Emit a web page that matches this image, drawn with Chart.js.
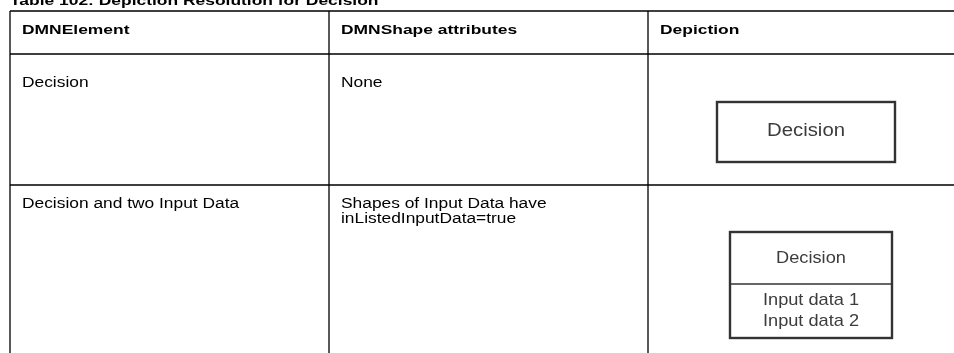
<!DOCTYPE html>
<html>
<head>
<meta charset="utf-8">
<script src="https://cdn.jsdelivr.net/npm/chart.js@4.4.1/dist/chart.umd.min.js"></script>
<style>
html,body{margin:0;padding:0;background:#fff;}
#wrap{width:954px;height:353px;position:relative;}
</style>
</head>
<body>
<div id="wrap"><canvas id="c" width="954" height="353"></canvas></div>
<script>
const tableTitle = "Table 102: Depiction Resolution for Decision";
const headers = ["DMNElement", "DMNShape attributes", "Depiction"];
const elements = ["Decision", "Decision and two Input Data"];
const attributes = [["None"], ["Shapes of Input Data have", "inListedInputData=true"]];
const depictionTitles = ["Decision", "Decision"];
const depictionInputs = [[], ["Input data 1", "Input data 2"]];

const FONT = '"Liberation Sans", Arial, sans-serif';

function txt(ctx, s, x, y, font, sx, align, base) {
  ctx.save();
  ctx.translate(x, y);
  ctx.scale(sx, 1);
  ctx.font = font;
  ctx.textAlign = align || 'left';
  ctx.textBaseline = base || 'alphabetic';
  ctx.fillText(s, 0, 0);
  ctx.restore();
}

const tablePlugin = {
  id: 'tablePlugin',
  afterDraw(chart) {
    const ctx = chart.ctx;
    ctx.save();
    ctx.fillStyle = '#fff';
    ctx.fillRect(0, 0, chart.width, chart.height);
    ctx.fillStyle = '#000';
    const SXB = 1.34, SXR = 1.24;
    // title
    txt(ctx, tableTitle, 10, 5, 'bold 13px ' + FONT, SXB);
    // grid
    const colX = [10, 329, 648, 970];
    const rowY = [11, 54, 185, 400];
    ctx.strokeStyle = '#000';
    ctx.lineWidth = 1.3;
    ctx.beginPath();
    for (const y of rowY) { ctx.moveTo(colX[0], y); ctx.lineTo(colX[3], y); }
    for (const x of colX) { ctx.moveTo(x, rowY[0]); ctx.lineTo(x, rowY[3]); }
    ctx.stroke();
    // headers
    headers.forEach((h, i) => txt(ctx, h, colX[i] + 12, 34, 'bold 13px ' + FONT, SXB));
    // rows
    const firstBase = [87, 208];
    elements.forEach((e, r) => {
      txt(ctx, e, colX[0] + 12, firstBase[r], '14px ' + FONT, SXR);
      attributes[r].forEach((a, k) => txt(ctx, a, colX[1] + 12, firstBase[r] + k * 15, '14px ' + FONT, SXR));
    });
    // depictions
    ctx.strokeStyle = '#333';
    ctx.lineWidth = 2.4;
    ctx.fillStyle = '#3c3c3c';
    const b1 = {x: 717, y: 102, w: 178, h: 60};
    ctx.strokeRect(b1.x, b1.y, b1.w, b1.h);
    txt(ctx, depictionTitles[0], b1.x + b1.w / 2, 131, '18px ' + FONT, 1.13, 'center', 'middle');
    const b2 = {x: 730, y: 232, w: 162, h: 106, div: 52};
    ctx.strokeRect(b2.x, b2.y, b2.w, b2.h);
    ctx.lineWidth = 1.6;
    ctx.beginPath();
    ctx.moveTo(b2.x, b2.y + b2.div); ctx.lineTo(b2.x + b2.w, b2.y + b2.div);
    ctx.stroke();
    txt(ctx, depictionTitles[1], b2.x + b2.w / 2, 258.5, '17px ' + FONT, 1.07, 'center', 'middle');
    depictionInputs[1].forEach((t, k) => txt(ctx, t, b2.x + b2.w / 2, 300.5 + k * 21, '17px ' + FONT, 1.07, 'center', 'middle'));
    ctx.restore();
  }
};

new Chart(document.getElementById('c'), {
  type: 'bar',
  data: { labels: elements, datasets: [{ data: [] }] },
  options: {
    responsive: false,
    animation: false,
    layout: { padding: 0 },
    plugins: { legend: { display: false }, tooltip: { enabled: false } },
    scales: { x: { display: false }, y: { display: false } }
  },
  plugins: [tablePlugin]
});
</script>
</body>
</html>
